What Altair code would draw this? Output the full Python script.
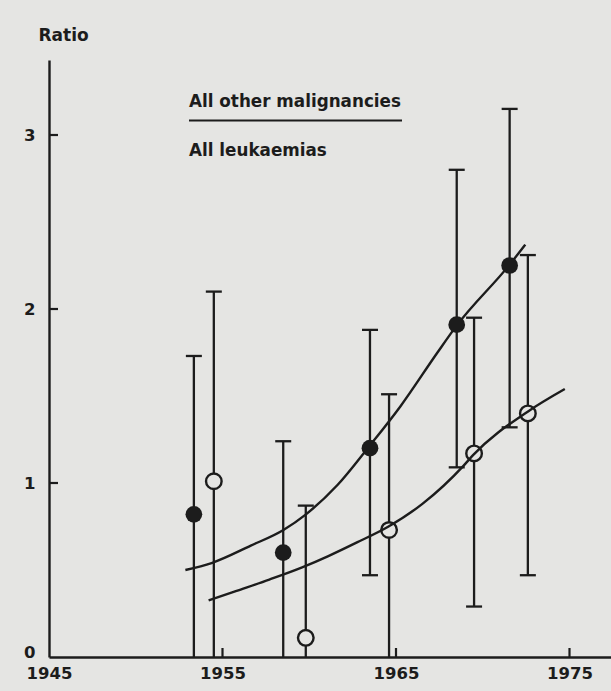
import altair as alt
import pandas as pd

# ---- data ----
filled_year = [1953.35, 1958.5, 1963.5, 1968.5, 1971.55]
filled_ratio = [0.82, 0.60, 1.20, 1.91, 2.25]
filled_upper = [1.73, 1.24, 1.88, 2.80, 3.15]
filled_lower = [0.0, 0.0, 0.47, 1.09, 1.32]

open_year = [1954.5, 1959.8, 1964.6, 1969.5, 1972.6]
open_ratio = [1.01, 0.11, 0.73, 1.17, 1.40]
open_upper = [2.10, 0.87, 1.51, 1.95, 2.31]
open_lower = [0.0, 0.0, 0.0, 0.29, 0.47]

filled_curve_year = [1952.86, 1954.37, 1956.63, 1958.51, 1959.81, 1961.64,
                     1963.45, 1965.25, 1967.39, 1968.46, 1971.55, 1972.45]
filled_curve_ratio = [0.50, 0.54, 0.64, 0.73, 0.82, 0.99,
                      1.21, 1.44, 1.75, 1.90, 2.255, 2.37]

open_curve_year = [1954.2, 1955.81, 1957.70, 1959.59, 1961.10, 1962.78,
                   1964.57, 1966.52, 1968.90, 1969.44, 1972.59, 1974.73]
open_curve_ratio = [0.325, 0.38, 0.445, 0.515, 0.58, 0.66,
                    0.75, 0.88, 1.10, 1.16, 1.41, 1.54]

x_tick_labels = [1945, 1955, 1965, 1975]
y_tick_labels = [0, 1, 2, 3]
x_tick_marks = [1955, 1965, 1975]
y_tick_marks = [1, 2, 3]

y_title = "Ratio"
legend_top = "All other malignancies"
legend_bottom = "All leukaemias"

# ---- styling ----
BG = "#e5e5e3"
INK = "#1c1c1c"
FONT = "DejaVu Sans"
W, H = 562, 597
X_DOMAIN = [1945, 1945 + W / 17.35]
Y_DOMAIN = [0, H / 174.0]

pts = pd.DataFrame({
    "year": filled_year + open_year,
    "ratio": filled_ratio + open_ratio,
    "upper": filled_upper + open_upper,
    "lower": filled_lower + open_lower,
    "kind": ["filled"] * len(filled_year) + ["open"] * len(open_year),
})
curves = pd.DataFrame({
    "year": filled_curve_year + open_curve_year,
    "ratio": filled_curve_ratio + open_curve_ratio,
    "kind": ["filled"] * len(filled_curve_year) + ["open"] * len(open_curve_year),
})
lower_caps = pts[pts["lower"] > 0]

xs = alt.Scale(domain=X_DOMAIN, nice=False, zero=False)
ys = alt.Scale(domain=Y_DOMAIN, nice=False, zero=False)
XA = alt.Axis(values=x_tick_labels, format="d", title=None, ticks=False,
              tickSize=0, labelPadding=8, grid=False, labelFlush=False,
              labelOverlap=False)
YA = alt.Axis(values=y_tick_labels, format="d", title=y_title, ticks=False,
              tickSize=0, labelPadding=14, grid=False, titleAngle=0,
              titleAlign="left", titleBaseline="middle", titleX=-11,
              titleY=-25, labelOverlap=False, labelFlush=False,
              labelOffset={"condition": {"test": "datum.value == 0",
                                         "value": -5}, "value": 0})


def X(f):
    return alt.X(f, scale=xs, axis=XA)


def Y(f):
    return alt.Y(f, scale=ys, axis=YA)


bars = alt.Chart(pts).mark_rule(color=INK, strokeWidth=2.3).encode(
    x=X("year:Q"), y=Y("lower:Q"), y2="upper:Q",
)
up_caps = alt.Chart(pts).mark_tick(orient="horizontal", color=INK, size=16,
                                   thickness=2.3, opacity=1).encode(
    x=X("year:Q"), y=Y("upper:Q"),
)
low_caps = alt.Chart(lower_caps).mark_tick(orient="horizontal", color=INK,
                                           size=16, thickness=2.3,
                                           opacity=1).encode(
    x=X("year:Q"), y=Y("lower:Q"),
)
open_pts = alt.Chart(pts[pts["kind"] == "open"]).mark_circle(
    size=243, fill=BG, stroke=INK, strokeWidth=2.4, opacity=1).encode(
    x=X("year:Q"), y=Y("ratio:Q"),
)
lines = alt.Chart(curves).mark_line(color=INK, strokeWidth=2.4,
                                    interpolate="monotone").encode(
    x=X("year:Q"), y=Y("ratio:Q"), detail="kind:N",
)
filled_pts = alt.Chart(pts[pts["kind"] == "filled"]).mark_circle(
    size=280, color=INK, opacity=1).encode(
    x=X("year:Q"), y=Y("ratio:Q"),
)
xt = alt.Chart(pd.DataFrame({"v": x_tick_marks})).mark_rule(
    color=INK, strokeWidth=2.2).encode(
    x=X("v:Q"), y=alt.value(H), y2=alt.value(H - 9),
)
yt = alt.Chart(pd.DataFrame({"v": y_tick_marks})).mark_rule(
    color=INK, strokeWidth=2.2).encode(
    y=Y("v:Q"), x=alt.value(0), x2=alt.value(9),
)

top_text = alt.Chart(pd.DataFrame({"t": [legend_top]})).mark_text(
    align="left", baseline="middle", font=FONT, fontSize=16.8,
    fontWeight="bold", color=INK).encode(
    text="t:N", x=alt.value(140), y=alt.value(41.5),
)
bottom_text = alt.Chart(pd.DataFrame({"t": [legend_bottom]})).mark_text(
    align="left", baseline="middle", font=FONT, fontSize=16.8,
    fontWeight="bold", color=INK).encode(
    text="t:N", x=alt.value(140), y=alt.value(90.5),
)
legend_rule = alt.Chart(pd.DataFrame({"t": [legend_top]})).mark_rule(
    color=INK, strokeWidth=2.2).encode(
    x=alt.value(140), x2=alt.value(353), y=alt.value(60.5),
)

chart = alt.layer(
    bars, up_caps, low_caps, open_pts, lines, filled_pts, xt, yt,
    top_text, bottom_text, legend_rule,
).properties(
    width=W, height=H,
    autosize=alt.AutoSizeParams(type="none"),
    padding={"left": 49, "top": 60, "right": 0, "bottom": 34},
    background=BG,
).configure_view(stroke=None).configure_axis(
    domainColor=INK, domainWidth=2.4, labelColor=INK, labelFont=FONT,
    labelFontSize=16.5, labelFontWeight="bold", titleColor=INK,
    titleFont=FONT, titleFontSize=17, titleFontWeight="bold",
)

chart.save("out.html", embed_options={"renderer": "svg", "actions": False})
